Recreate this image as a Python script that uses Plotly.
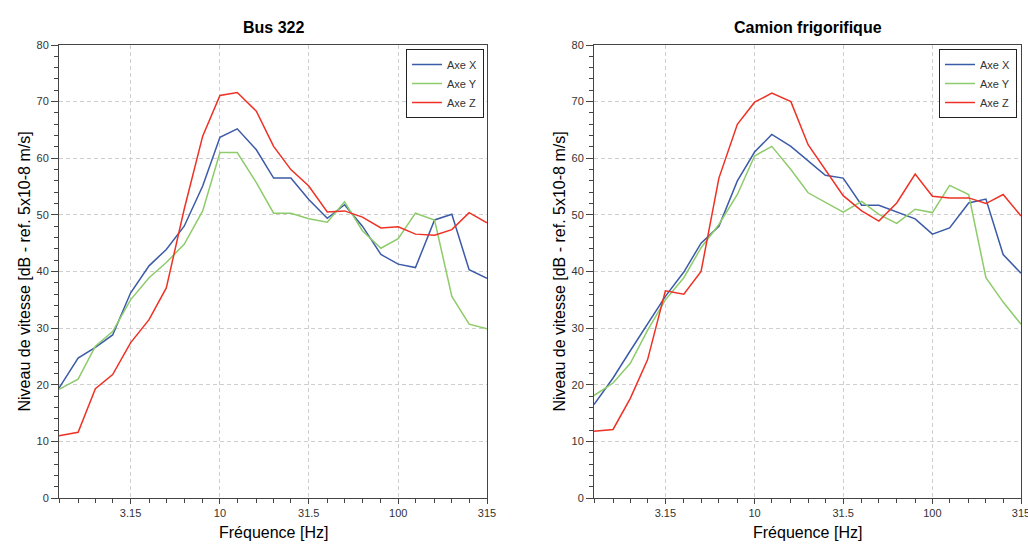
import plotly.graph_objects as go
import math

freqs = [1.25, 1.6, 2, 2.5, 3.15, 4, 5, 6.3, 8, 10, 12.5, 16, 20, 25, 31.5,
         40, 50, 63, 80, 100, 125, 160, 200, 250, 315]

bus_x = [19.4, 24.7, 26.6, 28.8, 36.2, 41.0, 43.9, 48.0, 55.1, 63.7, 65.2, 61.5, 56.5,
         56.5, 52.7, 49.4, 51.8, 48.0, 43.0, 41.3, 40.7, 49.1, 50.1, 40.3, 38.8]
bus_y = [19.2, 21.0, 26.8, 29.4, 35.0, 38.9, 41.6, 44.8, 50.7, 61.0, 61.0, 55.7, 50.3,
         50.3, 49.3, 48.7, 52.3, 47.2, 44.1, 45.8, 50.3, 49.1, 35.6, 30.7, 29.9]
bus_z = [11.0, 11.6, 19.3, 21.8, 27.4, 31.5, 37.1, 51.0, 63.9, 71.1, 71.6, 68.3, 62.1,
         58.0, 55.1, 50.5, 50.7, 49.6, 47.7, 47.9, 46.6, 46.4, 47.4, 50.4, 48.6]

cam_x = [16.5, 21.2, 26.0, 30.8, 35.6, 39.9, 45.0, 48.0, 56.0, 61.1, 64.2, 62.1, 59.5,
         57.0, 56.5, 51.7, 51.7, 50.5, 49.3, 46.6, 47.7, 52.1, 52.8, 43.0, 39.7]
cam_y = [18.1, 20.3, 23.8, 29.6, 35.0, 38.9, 44.2, 48.3, 53.6, 60.4, 62.1, 58.0, 53.9,
         52.3, 50.5, 52.4, 50.1, 48.5, 51.0, 50.4, 55.2, 53.6, 38.9, 34.6, 30.7]
cam_z = [11.8, 12.1, 17.6, 24.4, 36.6, 36.0, 40.0, 56.5, 66.0, 69.9, 71.5, 70.0, 62.4,
         58.0, 53.4, 50.7, 48.9, 52.1, 57.2, 53.3, 53.0, 53.0, 52.0, 53.6, 49.8]

series_names = ["Axe X", "Axe Y", "Axe Z"]
colors = ["#3b5aa8", "#8ecb6a", "#ee3124"]
titles = ["Bus 322", "Camion frigorifique"]
xtick_vals = [3.15, 10, 31.5, 100, 315]
xtick_text = ["3.15", "10", "31.5", "100", "315"]

W, H = 1028, 544
FONT = "Liberation Sans, Arial, sans-serif"

fig = go.Figure()

datasets = [[bus_x, bus_y, bus_z], [cam_x, cam_y, cam_z]]
for p, data in enumerate(datasets):
    for k, vals in enumerate(data):
        fig.add_trace(go.Scatter(
            x=freqs, y=vals, mode="lines", name=series_names[k],
            line=dict(color=colors[k], width=1.5),
            xaxis="x" if p == 0 else "x2",
            yaxis="y" if p == 0 else "y2",
            legend="legend" if p == 0 else "legend2",
        ))

lefts = [59, 594]
rights = [487, 1021]
top_px, bot_px = 45, 498
ydom = [(H - bot_px) / H, (H - top_px) / H]

axis_common = dict(
    showline=True, linecolor="#444", linewidth=1, mirror=True,
    ticks="outside", tickcolor="#444", ticklen=5, tickwidth=1,
    tickfont=dict(family=FONT, size=11, color="#333"),
    showgrid=True, gridcolor="#cfcfcf", griddash="4px,3px", gridwidth=1,
    zeroline=False, automargin=False, ticklabeloverflow="allow",
)

for p in range(2):
    xs = "" if p == 0 else "2"
    xdom = [lefts[p] / W, rights[p] / W]
    fig.update_layout({
        f"xaxis{xs}": dict(
            type="log", domain=xdom,
            range=[math.log10(1.25), math.log10(315.001)],
            tickmode="array", tickvals=xtick_vals, ticktext=xtick_text,
            anchor=f"y{xs}",
            minor=dict(tickmode="array", tickvals=freqs, ticks="outside",
                       ticklen=4, tickcolor="#444", showgrid=False),
            **axis_common,
        ),
        f"yaxis{xs}": dict(
            domain=ydom, range=[0, 80], tickmode="array",
            tickvals=[0, 10, 20, 30, 40, 50, 60, 70, 80],
            anchor=f"x{xs}",
            minor=dict(tickmode="linear", tick0=0, dtick=2, ticks="outside",
                       ticklen=4, tickcolor="#444", showgrid=False),
            **{**axis_common, "ticklen": 7},
        ),
    })

legend_common = dict(
    bgcolor="white", bordercolor="#222", borderwidth=1,
    font=dict(family=FONT, size=11, color="#333"),
    xanchor="right", yanchor="top",
    y=(H - 49) / H,
    tracegroupgap=0,
)
fig.update_layout(
    legend=dict(x=484 / W, **legend_common),
    legend2=dict(x=1017 / W, **legend_common),
)

annotations = []
for p in range(2):
    cx = (lefts[p] + rights[p]) / 2 / W
    annotations.append(dict(
        text=f"<b>{titles[p]}</b>", x=cx, y=(H - 27) / H,
        xref="paper", yref="paper", showarrow=False,
        font=dict(family=FONT, size=16, color="black"),
        xanchor="center", yanchor="middle"))
    annotations.append(dict(
        text="Fréquence [Hz]", x=cx, y=(H - 532) / H,
        xref="paper", yref="paper", showarrow=False,
        font=dict(family=FONT, size=16, color="black"),
        xanchor="center", yanchor="middle"))
    annotations.append(dict(
        text="Niveau de vitesse [dB - ref. 5x10-8 m/s]",
        x=(lefts[p] - 35) / W, y=(ydom[0] + ydom[1]) / 2,
        xref="paper", yref="paper", showarrow=False, textangle=-90,
        font=dict(family=FONT, size=16, color="black"),
        xanchor="center", yanchor="middle"))

fig.update_layout(
    width=W, height=H,
    margin=dict(l=0, r=0, t=0, b=0),
    paper_bgcolor="white", plot_bgcolor="white",
    annotations=annotations,
    showlegend=True,
)

fig.write_html("out.html")
